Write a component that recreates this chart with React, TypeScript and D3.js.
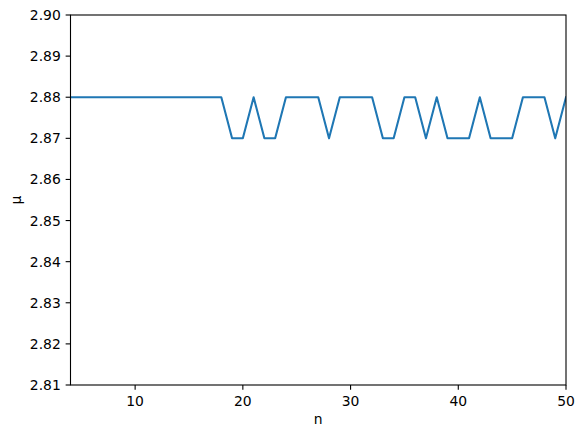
import React from "react";
import * as d3 from "d3";

const nValues = [4,5,6,7,8,9,10,11,12,13,14,15,16,17,18,19,20,21,22,23,24,25,26,27,28,29,30,31,32,33,34,35,36,37,38,39,40,41,42,43,44,45,46,47,48,49,50];
const muValues = [2.88,2.88,2.88,2.88,2.88,2.88,2.88,2.88,2.88,2.88,2.88,2.88,2.88,2.88,2.88,2.87,2.87,2.88,2.87,2.87,2.88,2.88,2.88,2.88,2.87,2.88,2.88,2.88,2.88,2.87,2.87,2.88,2.88,2.87,2.88,2.87,2.87,2.87,2.88,2.87,2.87,2.87,2.88,2.88,2.88,2.87,2.88];
const xTicks = [10, 20, 30, 40, 50];
const yTicks = [2.81, 2.82, 2.83, 2.84, 2.85, 2.86, 2.87, 2.88, 2.89, 2.90];

const W = 585, H = 438;
const L = 70.5, R = 566, T = 15, B = 385;

export default function App() {
  const x = d3.scaleLinear().domain([4, 50]).range([L, R]);
  const y = d3.scaleLinear().domain([2.81, 2.90]).range([B, T]);
  const pts = nValues.map((n, i) => [n, muValues[i]] as [number, number]);
  const line = d3.line<[number, number]>().x(d => x(d[0])).y(d => y(d[1]));
  const font = "DejaVu Sans, sans-serif";
  return (
    <svg width={W} height={H} style={{ position: "absolute", left: 0, top: 0, background: "#fff" }}>
      <rect x={0} y={0} width={W} height={H} fill="#fff" />
      <defs>
        <clipPath id="clip"><rect x={L} y={T} width={R - L} height={B - T} /></clipPath>
      </defs>
      <path d={line(pts) || ""} fill="none" stroke="#1f77b4" strokeWidth={2.08} strokeLinejoin="round" strokeLinecap="square" clipPath="url(#clip)" />
      <rect x={L} y={T} width={R - L} height={B - T} fill="none" stroke="#000" strokeWidth={1.1} />
      {xTicks.map(t => (
        <g key={"x" + t}>
          <line x1={x(t)} x2={x(t)} y1={B} y2={B + 4.86} stroke="#000" strokeWidth={1.1} />
          <text x={x(t)} y={B + 9.7 + 11} fontSize={13.9} fontFamily={font} textAnchor="middle" fill="#000">{t}</text>
        </g>
      ))}
      {yTicks.map(t => (
        <g key={"y" + t}>
          <line x1={L - 4.86} x2={L} y1={y(t)} y2={y(t)} stroke="#000" strokeWidth={1.1} />
          <text x={L - 9.7} y={y(t)} dy="0.36em" fontSize={13.9} fontFamily={font} textAnchor="end" fill="#000">{t.toFixed(2)}</text>
        </g>
      ))}
      <text x={(L + R) / 2} y={424} fontSize={13.9} fontFamily={font} textAnchor="middle" fill="#000">n</text>
      <text transform={`translate(21,${(T + B) / 2}) rotate(-90)`} fontSize={13.9} fontFamily={font} textAnchor="middle" fill="#000">μ</text>
    </svg>
  );
}
